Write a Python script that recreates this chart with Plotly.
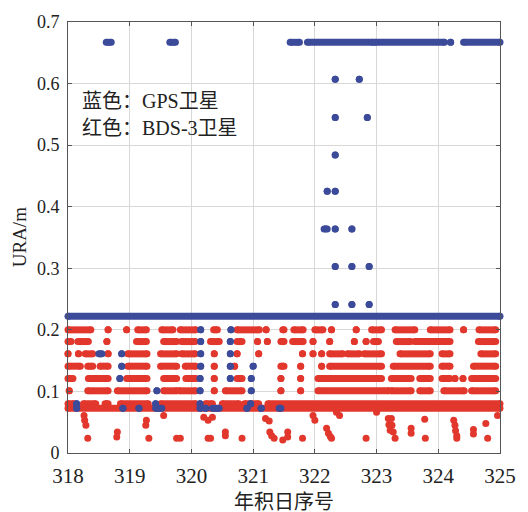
import plotly.graph_objects as go

# ---------------- data ----------------
x_ticks = [318, 319, 320, 321, 322, 323, 324, 325]
y_ticks = [0, 0.1, 0.2, 0.3, 0.4, 0.5, 0.6, 0.7]

# URA levels (m)
lvl_0667 = 0.667
lvl_0607 = 0.607
lvl_0545 = 0.545
lvl_0484 = 0.484
lvl_0425 = 0.425
lvl_0364 = 0.364
lvl_0303 = 0.303
lvl_0241 = 0.241
lvl_022 = 0.222
lvl_020 = 0.200
lvl_018 = 0.181
lvl_016 = 0.161
lvl_014 = 0.141
lvl_012 = 0.121
lvl_010 = 0.101
lvl_008 = 0.080
lvl_0072 = 0.0725

# GPS (blue): runs of consecutive epochs [day_start, day_end] per URA level
gps_0667 = [[318.62, 318.70], [319.65, 319.74], [321.60, 321.75], [321.88, 322.94],
            [322.97, 324.10], [324.20, 324.20], [324.41, 325.0]]
gps_0607 = [[322.33, 322.33], [322.72, 322.72]]
gps_0545 = [[322.33, 322.33], [322.85, 322.85]]
gps_0484 = [[322.33, 322.33]]
gps_0425 = [[322.20, 322.20], [322.33, 322.33]]
gps_0364 = [[322.15, 322.20], [322.33, 322.33], [322.60, 322.60]]
gps_0303 = [[322.33, 322.33], [322.60, 322.60], [322.88, 322.88]]
gps_0241 = [[322.33, 322.33], [322.60, 322.60], [322.88, 322.88]]
gps_022 = [[318.0, 325.0]]
gps_020 = [[320.15, 320.15], [320.64, 320.64]]
gps_018 = [[320.15, 320.15], [320.63, 320.63]]
gps_016 = [[318.50, 318.55], [318.87, 318.87], [320.15, 320.15], [320.63, 320.63]]
gps_014 = [[318.87, 318.87], [320.15, 320.15], [320.63, 320.63], [321.00, 321.00]]
gps_012 = [[318.84, 318.84], [320.14, 320.14], [320.63, 320.63], [320.97, 320.97]]
gps_010 = [[319.44, 319.44], [320.14, 320.14], [320.97, 320.97]]
gps_008 = [[318.14, 318.14], [319.42, 319.42], [320.14, 320.14], [320.96, 320.96]]
gps_0072 = [[318.14, 318.14], [318.89, 318.89], [319.15, 319.15], [319.42, 319.52],
            [320.14, 320.14], [320.23, 320.23], [320.34, 320.45], [320.90, 320.90],
            [321.13, 321.13], [321.42, 321.45]]

# BDS-3 (red): runs [day_start, day_end] per URA level
bds_020 = [[318.0, 318.37], [318.65, 318.65], [318.95, 318.95], [319.13, 319.27],
           [319.52, 319.70], [319.82, 320.07], [320.36, 320.42], [320.74, 321.10],
           [321.21, 321.21], [321.48, 321.50], [321.66, 321.81], [322.0, 322.13],
           [322.27, 322.27], [322.67, 322.67], [322.92, 323.08], [323.30, 323.62],
           [323.87, 324.19], [324.41, 324.41], [324.66, 324.93]]
bds_018 = [[318.0, 318.05], [318.16, 318.33], [318.63, 318.63], [319.11, 319.27],
           [319.55, 319.76], [319.84, 320.06], [320.31, 320.45], [320.74, 320.82],
           [321.07, 321.07], [321.23, 321.23], [321.45, 321.50], [321.64, 321.81],
           [321.97, 321.97], [322.24, 322.24], [322.64, 322.64], [322.83, 322.83],
           [322.95, 323.03], [323.32, 323.55], [323.62, 324.19], [324.65, 324.93]]
bds_016 = [[318.0, 318.0], [318.17, 318.17], [318.28, 318.40], [318.65, 318.65],
           [318.97, 319.28], [319.50, 319.76], [319.84, 320.06], [320.37, 320.37],
           [320.74, 320.74], [321.09, 321.09], [321.80, 321.80], [321.97, 321.97],
           [322.11, 322.11], [322.24, 322.45], [322.53, 322.72], [322.80, 323.08],
           [323.38, 323.87], [324.06, 324.19], [324.69, 324.93]]
bds_014 = [[318.0, 318.20], [318.32, 318.40], [318.52, 318.65], [318.97, 319.28],
           [319.50, 319.76], [319.90, 320.07], [320.37, 320.37], [320.70, 320.70],
           [321.45, 321.50], [321.77, 321.77], [322.11, 322.11], [322.24, 323.08],
           [323.27, 323.87], [324.06, 324.19], [324.57, 324.93]]
bds_012 = [[318.0, 318.08], [318.33, 318.65], [318.95, 319.28], [319.55, 319.76],
           [319.91, 320.07], [320.37, 320.37], [320.74, 320.82], [321.45, 321.45],
           [321.77, 321.77], [322.05, 323.08], [323.24, 323.56], [323.70, 323.87],
           [324.06, 324.19], [324.27, 324.27], [324.40, 324.40], [324.54, 324.93]]
bds_010 = [[318.02, 318.02], [318.32, 318.65], [318.80, 319.28], [319.55, 319.76],
           [319.80, 320.07], [320.37, 320.37], [320.55, 320.82], [321.45, 321.45],
           [321.77, 321.77], [322.05, 323.20], [323.24, 323.56], [323.70, 323.87],
           [324.09, 324.42], [324.54, 324.93]]
bds_008 = [[318.0, 318.10], [318.25, 318.45], [318.60, 318.65], [318.85, 319.30],
           [319.50, 320.07], [320.23, 320.34], [320.50, 320.77], [320.86, 321.09],
           [321.24, 325.0]]
bds_0072 = [[318.0, 325.0]]

# BDS-3 (red): isolated low-URA epochs
bds_low_day = [318.26, 318.27, 318.29, 318.32, 318.80, 318.79, 319.27, 319.26, 319.31,
               319.55, 319.76, 319.82, 320.20, 320.27, 320.34, 320.27, 320.31, 320.55,
               320.55, 320.82, 321.20, 321.26, 321.27, 321.30, 321.34, 321.48, 321.56,
               321.56, 321.80, 321.97, 322.00, 322.19, 322.22, 322.25, 322.27, 322.35,
               322.40, 322.83, 323.00, 323.19, 323.20, 323.22, 323.24, 323.25, 323.27,
               323.30, 323.56, 323.56, 323.78, 323.79, 324.25, 324.27, 324.28, 324.30,
               324.30, 324.57, 324.57, 324.77, 324.80, 324.96]
bds_low_ura = [0.061, 0.053, 0.045, 0.024, 0.034, 0.026, 0.053, 0.045, 0.024,
               0.061, 0.024, 0.024, 0.058, 0.053, 0.058, 0.024, 0.024, 0.034,
               0.028, 0.024, 0.056, 0.052, 0.034, 0.028, 0.024, 0.021, 0.034,
               0.026, 0.024, 0.061, 0.053, 0.040, 0.032, 0.027, 0.024, 0.066,
               0.061, 0.024, 0.066, 0.056, 0.046, 0.037, 0.056, 0.045, 0.034,
               0.024, 0.040, 0.032, 0.055, 0.024, 0.053, 0.045, 0.036, 0.028,
               0.024, 0.038, 0.031, 0.048, 0.024, 0.061]

gps_levels = [(lvl_0667, gps_0667), (lvl_0607, gps_0607), (lvl_0545, gps_0545),
              (lvl_0484, gps_0484), (lvl_0425, gps_0425), (lvl_0364, gps_0364),
              (lvl_0303, gps_0303), (lvl_0241, gps_0241), (lvl_022, gps_022),
              (lvl_020, gps_020), (lvl_018, gps_018), (lvl_016, gps_016),
              (lvl_014, gps_014), (lvl_012, gps_012), (lvl_010, gps_010),
              (lvl_008, gps_008), (lvl_0072, gps_0072)]
bds_levels = [(lvl_020, bds_020), (lvl_018, bds_018), (lvl_016, bds_016),
              (lvl_014, bds_014), (lvl_012, bds_012), (lvl_010, bds_010),
              (lvl_008, bds_008), (lvl_0072, bds_0072)]

BLUE = "#3c4a9a"
RED = "#e2372c"
DOT = 7


def runs_xy(levels):
    xs, ys = [], []
    for lvl, runs in levels:
        for a, b in runs:
            xs += [a, b, None]
            ys += [lvl, lvl, None]
    return xs, ys


fig = go.Figure()

bx, by = runs_xy(bds_levels)
fig.add_trace(go.Scatter(x=bx, y=by, mode="lines+markers", cliponaxis=False,
                         line=dict(color=RED, width=DOT),
                         marker=dict(color=RED, size=DOT), showlegend=False))
fig.add_trace(go.Scatter(x=bds_low_day, y=bds_low_ura, mode="markers", cliponaxis=False,
                         marker=dict(color=RED, size=DOT), showlegend=False))
gx, gy = runs_xy(gps_levels)
fig.add_trace(go.Scatter(x=gx, y=gy, mode="lines+markers", cliponaxis=False,
                         line=dict(color=BLUE, width=DOT),
                         marker=dict(color=BLUE, size=DOT), showlegend=False))

SERIF = "Times New Roman"
CJK = "Times New Roman, Noto Sans CJK SC"

axis_common = dict(showgrid=True, gridcolor="#d8d8d8", gridwidth=1,
                   showline=True, linecolor="#555555", linewidth=1, mirror="allticks",
                   ticks="inside", ticklen=4, tickcolor="#555555", zeroline=False)

fig.update_xaxes(range=[318, 325], tickvals=x_ticks, ticktext=[str(v) for v in x_ticks],
                 tickfont=dict(family=SERIF, size=21, color="#222"),
                 ticklabelstandoff=4, **axis_common)
fig.update_yaxes(range=[0, 0.7], tickvals=y_ticks,
                 ticktext=["0" if v == 0 else f"{v:.1f}" for v in y_ticks],
                 tickfont=dict(family=SERIF, size=18, color="#222"),
                 ticklabelstandoff=4, **axis_common)

fig.add_annotation(xref="paper", yref="paper", x=0.028, y=0.816, xanchor="left",
                   yanchor="middle", showarrow=False, text="蓝色：GPS卫星",
                   font=dict(family=CJK, size=20, color="#222"))
fig.add_annotation(xref="paper", yref="paper", x=0.028, y=0.754, xanchor="left",
                   yanchor="middle", showarrow=False, text="红色：BDS-3卫星",
                   font=dict(family=CJK, size=20, color="#222"))
fig.add_annotation(xref="paper", yref="paper", x=-0.113, y=0.501, textangle=-90,
                   xanchor="center", yanchor="middle", showarrow=False, text="URA/m",
                   font=dict(family=SERIF, size=19, color="#222"))
fig.add_annotation(xref="paper", yref="paper", x=0.501, y=-0.114,
                   xanchor="center", yanchor="middle", showarrow=False, text="年积日序号",
                   font=dict(family=CJK, size=20, color="#222"))

fig.update_layout(width=528, height=512, margin=dict(l=68, r=17, t=18, b=59),
                  paper_bgcolor="white", plot_bgcolor="white")

fig.write_html("out.html")
